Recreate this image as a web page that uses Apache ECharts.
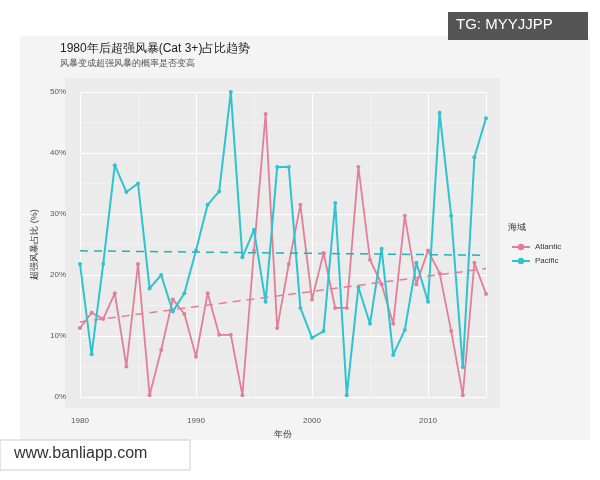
<html>
<head>
<script src="https://cdn.jsdelivr.net/npm/echarts@6/dist/echarts.min.js"></script>
</head>
<body style="margin:0;background:#fff">
<div id="main" style="width:600px;height:480px;"></div>
<script type="text/javascript">

var years = [];
for (var y = 1980; y <= 2015; y++) years.push(y);

var atlantic = [11.3, 13.8, 12.8, 17, 5, 21.8, 0.3, 7.7, 16, 13.6, 6.6, 17, 10.2, 10.2, 0.3, 24,
    46.4, 11.3, 21.8, 31.5, 16, 23.6, 14.6, 14.6, 37.7, 22.5, 18.5, 12, 29.7, 18.5, 24, 20.3,
    10.8, 0.3, 22, 16.9];
var pacific = [21.8, 7, 21.8, 38, 33.6, 35, 17.8, 20, 14, 17, 24, 31.5, 33.7, 50, 22.9, 27.4,
    15.6, 37.7, 37.7, 14.6, 9.7, 10.8, 31.8, 0.3, 18, 12, 24.3, 6.9, 11, 22, 15.6, 46.6,
    29.7, 4.9, 39.3, 45.7];

var atlColor = '#E27F97';
var pacColor = '#2FC3CE';

function pairs(vals) {
    return years.map(function (yr, i) { return [yr, vals[i]]; });
}

// least squares trend, like geom_smooth(method = 'lm')
function trend(vals) {
    var n = years.length, sx = 0, sy = 0, sxx = 0, sxy = 0;
    for (var i = 0; i < n; i++) {
        sx += years[i]; sy += vals[i];
        sxx += years[i] * years[i]; sxy += years[i] * vals[i];
    }
    var b = (n * sxy - sx * sy) / (n * sxx - sx * sx);
    var a = (sy - b * sx) / n;
    return [[1980, a + b * 1980], [2015, a + b * 2015]];
}

var chart = echarts.init(document.getElementById('main'));

option = {
    backgroundColor: '#fff',
    animation: false,
    title: {
        text: '1980年后超强风暴(Cat 3+)占比趋势',
        subtext: '风暴变成超强风暴的概率是否变高',
        left: 55,
        top: 38,
        itemGap: 4,
        textStyle: { fontSize: 12, fontWeight: 'normal', color: '#222' },
        subtextStyle: { fontSize: 9, color: '#555' }
    },
    graphic: [
        { type: 'rect', z: -10, shape: { x: 20, y: 36, width: 570, height: 404 }, style: { fill: '#F4F4F4' } },
        { type: 'rect', z: -9, shape: { x: 65, y: 78, width: 435, height: 330 }, style: { fill: '#EBEBEB' } },
        { type: 'text', left: 508, top: 223, style: { text: '海域', fontSize: 9, fill: '#333' } },
        { type: 'rect', z: 10, shape: { x: 448, y: 12, width: 140, height: 28 }, style: { fill: '#555' } },
        { type: 'text', z: 11, left: 456, top: 17, style: { text: 'TG: MYYJJPP', fontSize: 15, fill: '#fff', fontFamily: 'Liberation Sans' } },
        { type: 'rect', z: 10, shape: { x: 0, y: 440, width: 190, height: 30 }, style: { fill: '#fff', stroke: '#ccc' } },
        { type: 'text', z: 11, left: 14, top: 446, style: { text: 'www.banliapp.com', fontSize: 16, fill: '#333', fontFamily: 'Liberation Sans' } }
    ],
    legend: {
        orient: 'vertical',
        left: 506,
        top: 238,
        itemWidth: 18,
        itemHeight: 8,
        itemGap: 6,
        textStyle: { fontSize: 8, color: '#333' },
        data: ['Atlantic', 'Pacific']
    },
    grid: { left: 80, right: 114, top: 92, bottom: 83 },
    xAxis: {
        type: 'value',
        min: 1980,
        max: 2015,
        interval: 10,
        name: '年份',
        nameLocation: 'middle',
        nameGap: 30,
        nameTextStyle: { fontSize: 9, color: '#333' },
        axisLine: { show: false },
        axisTick: { show: false },
        axisLabel: {
            fontSize: 8, color: '#555', margin: 20,
            formatter: function (v) { return v % 10 === 0 ? String(v) : ''; }
        },
        splitLine: { lineStyle: { color: '#fff', width: 1 } },
        minorTick: { show: false, splitNumber: 2 },
        minorSplitLine: { show: true, lineStyle: { color: '#F6F6F6', width: 0.6 } }
    },
    yAxis: {
        type: 'value',
        min: 0,
        max: 50,
        interval: 10,
        name: '超强风暴占比 (%)',
        nameLocation: 'middle',
        nameGap: 40,
        nameTextStyle: { fontSize: 9, color: '#333' },
        axisLine: { show: false },
        axisTick: { show: false },
        axisLabel: { fontSize: 8, color: '#555', formatter: '{value}%', margin: 14 },
        splitLine: { lineStyle: { color: '#fff', width: 1 } },
        minorTick: { show: false, splitNumber: 2 },
        minorSplitLine: { show: true, lineStyle: { color: '#F6F6F6', width: 0.6 } }
    },
    series: [
        {
            name: 'Atlantic', type: 'line', data: pairs(atlantic),
            symbol: 'circle', symbolSize: 4, clip: false,
            itemStyle: { color: atlColor }, lineStyle: { width: 1.8 }
        },
        {
            name: 'Pacific', type: 'line', data: pairs(pacific),
            symbol: 'circle', symbolSize: 4, clip: false,
            itemStyle: { color: pacColor }, lineStyle: { width: 2 }
        },
        {
            name: 'Atlantic trend', type: 'line', data: trend(atlantic), symbol: 'none',
            lineStyle: { color: atlColor, type: [8, 6], width: 1.5 }
        },
        {
            name: 'Pacific trend', type: 'line', data: trend(pacific), symbol: 'none',
            lineStyle: { color: '#27B0B5', type: [8, 6], width: 1.5 }
        }
    ]
};

chart.setOption(option);

</script>
</body>
</html>
